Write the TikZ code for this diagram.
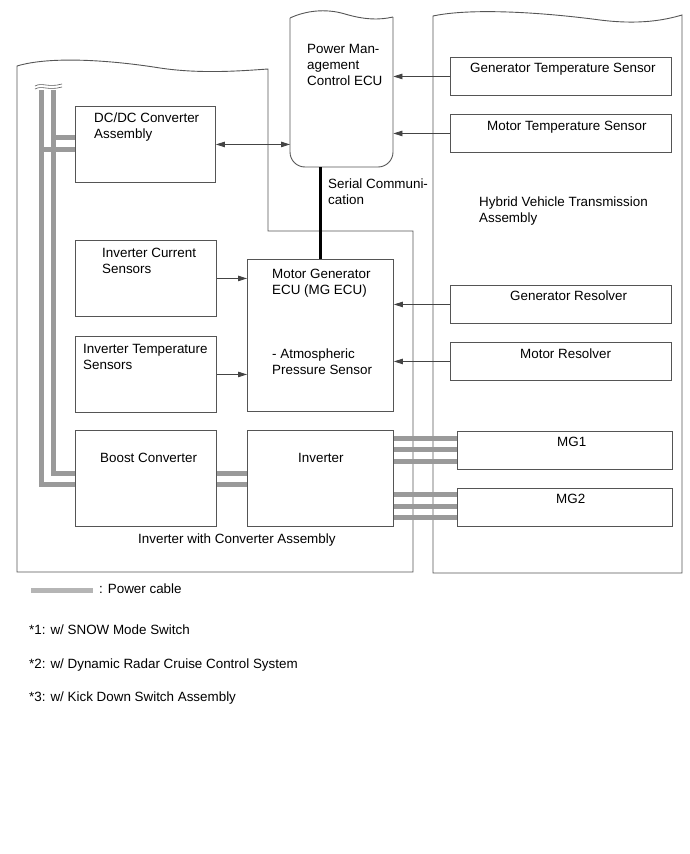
\documentclass[tikz,border=0pt]{standalone}
\usepackage{fontspec}
\setmainfont{Liberation Sans}
\usetikzlibrary{arrows.meta,calc}
\definecolor{boxgray}{HTML}{555555}
\definecolor{linegray}{HTML}{444444}
\definecolor{cablegray}{HTML}{9A9A9A}
\definecolor{cablelight}{HTML}{B5B5B5}
\begin{document}
\begin{tikzpicture}[x=1pt,y=-1pt,
  every node/.style={font=\fontsize{13.4}{16}\selectfont, inner sep=0pt},
  box/.style={draw=boxgray, line width=0.9pt, anchor=north west},
  ghost/.style={anchor=north west},
  txt/.style={align=left, anchor=north west, text=black},
  sig/.style={draw=linegray, line width=0.8pt, -{Triangle[length=9pt,width=5.5pt]}},
  bisig/.style={draw=linegray, line width=0.8pt, {Triangle[length=9pt,width=5.5pt]}-{Triangle[length=9pt,width=5.5pt]}},
  cable/.style={draw=cablegray, line width=5pt},
  encl/.style={draw=boxgray, line width=0.9pt},
  brk/.style={draw=boxgray, line width=0.6pt}]
\useasboundingbox (0,0) rectangle (690,854);

% enclosures
\draw[encl] (17,66) .. controls (50,56) and (110,60) .. (160,68) .. controls (200,74) and (240,71) .. (268,69) -- (268,231) -- (413,231) -- (413,572) -- (17,572) -- cycle;
\draw[encl] (433,16) .. controls (470,8) and (540,12) .. (600,20) .. controls (640,25) and (665,20) .. (682,15) -- (682,573) -- (433,573) -- cycle;

% Power Management Control ECU
\node[ghost, minimum width=103pt, minimum height=152pt] (pmecu) at (290,15) {};
\draw[encl] (290,18) .. controls (305,11) and (325,8) .. (345,14) .. controls (365,20) and (380,20) .. (393,17);
\draw[encl, rounded corners=15pt] (393,17) -- (393,167) -- (290,167) -- (290,18);

% boxes
\node[box, minimum width=140pt, minimum height=76pt] (dcdc) at (75,106) {};
\node[box, minimum width=141pt, minimum height=76pt] (ics) at (75,240) {};
\node[box, minimum width=141pt, minimum height=76pt] (its) at (75,336) {};
\node[box, minimum width=141pt, minimum height=96pt] (boost) at (75,430) {};
\node[box, minimum width=146pt, minimum height=96pt] (inv) at (247,430) {};
\node[box, minimum width=146pt, minimum height=152pt] (mgecu) at (247,259) {};
\node[box, minimum width=221pt, minimum height=38pt] (gts) at (450,57) {};
\node[box, minimum width=221pt, minimum height=38pt] (mts) at (450,114) {};
\node[box, minimum width=221pt, minimum height=38pt] (gres) at (450,285) {};
\node[box, minimum width=221pt, minimum height=38pt] (mres) at (450,342) {};
\node[box, minimum width=215pt, minimum height=38pt] (mg1) at (457,431) {};
\node[box, minimum width=215pt, minimum height=38pt] (mg2) at (457,488) {};

% texts
\node[txt] (tpm) at (307,43.8) {Power Man-\\agement\\Control ECU};
\node[txt] (tdcdc) at (94,112.8) {DC/DC Converter\\Assembly};
\node[txt] (tics) at (102,247.8) {Inverter Current\\Sensors};
\node[txt] (tits) at (83,343.8) {Inverter Temperature\\Sensors};
\node[txt] (tboost) at (100,452.8) {Boost Converter};
\node[txt] (tinv) at (298,452.8) {Inverter};
\node[txt] (tmg1) at (272,268.8) {Motor Generator\\ECU (MG ECU)};
\node[txt] (tmg2) at (272,348.8) {- Atmospheric\\Pressure Sensor};
\node[txt] (tser) at (328,178.8) {Serial Communi-\\cation};
\node[txt] (thv) at (479,196.5) {Hybrid Vehicle Transmission\\Assembly};
\node[txt] (tgts) at (470,62.8) {Generator Temperature Sensor};
\node[txt] (tmts) at (487,120.8) {Motor Temperature Sensor};
\node[txt] (tgres) at (510,290.8) {Generator Resolver};
\node[txt] (tmres) at (520,348.8) {Motor Resolver};
\node[txt] (tmgA) at (557,436.8) {MG1};
\node[txt] (tmgB) at (556,493.8) {MG2};
\node[txt] (tiwc) at (138,533.8) {Inverter with Converter Assembly};
\node[txt] (tleg) at (99,583.8) {: Power cable};
\node[txt] (tn1) at (29,624.8) {*1: w/ SNOW Mode Switch};
\node[txt] (tn2) at (29,658.8) {*2: w/ Dynamic Radar Cruise Control System};
\node[txt] (tn3) at (29,691.8) {*3: w/ Kick Down Switch Assembly};

% signal connectors
\draw[sig] (gts.west) -- (gts.west -| pmecu.east);
\draw[sig] (mts.west) -- (mts.west -| pmecu.east);
\draw[sig] (gres.west) -- (gres.west -| mgecu.east);
\draw[sig] (mres.west) -- (mres.west -| mgecu.east);
\draw[sig] (ics.east) -- (ics.east -| mgecu.west);
\draw[sig] (its.east) -- (its.east -| mgecu.west);
\draw[bisig] (dcdc.east) -- (dcdc.east -| pmecu.west);
\draw[line width=3pt] (mgecu.north) -- (mgecu.north |- pmecu.south);

% power cables
\coordinate (cO) at (41.5,90);
\coordinate (cI) at (53.5,90);
\coordinate (d1) at ($(dcdc.west)+(0,-7)$);
\coordinate (d2) at ($(dcdc.west)+(0,5)$);
\coordinate (b1) at ($(boost.west)+(0,-5)$);
\coordinate (b2) at ($(boost.west)+(0,6)$);
\draw[cable] (cI) |- (b1);
\draw[cable] (cI |- d1) -- (d1);
\draw[cable] (cO) |- (b2);
\draw[cable] (cO |- d2) -- (d2);
\draw[brk] (35,86) .. controls (42,82) and (48,88) .. (62,84);
\draw[brk] (35,89) .. controls (42,85) and (48,91) .. (62,87);

\coordinate (e1) at ($(inv.west)+(0,-5)$);
\coordinate (e2) at ($(inv.west)+(0,6)$);
\draw[cable] (boost.east |- e1) -- (e1);
\draw[cable] (boost.east |- e2) -- (e2);

\coordinate (m1a) at ($(mg1.west)+(0,-12)$);
\coordinate (m1b) at ($(mg1.west)+(0,-1)$);
\coordinate (m1c) at ($(mg1.west)+(0,11)$);
\coordinate (m2a) at ($(mg2.west)+(0,-13)$);
\coordinate (m2b) at ($(mg2.west)+(0,-1)$);
\coordinate (m2c) at ($(mg2.west)+(0,10)$);
\foreach \c in {m1a,m1b,m1c,m2a,m2b,m2c}
  \draw[cable] (inv.east |- \c) -- (\c);

% legend sample
\coordinate (lg1) at (31,590);
\coordinate (lg2) at (93,590);
\draw[cable, draw=cablelight] (lg1) -- (lg2);
\end{tikzpicture}
\end{document}
